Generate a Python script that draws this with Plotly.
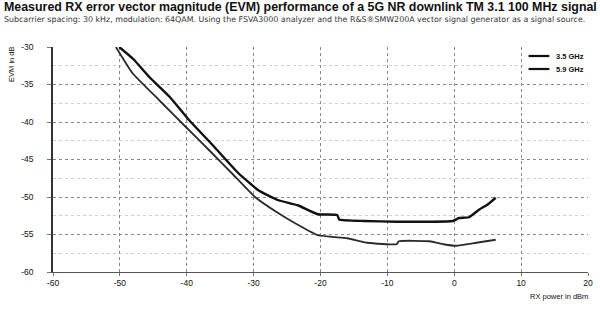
import plotly.graph_objects as go

# RX power (dBm) and EVM (dB)
x_35 = [-50.1, -48.0, -45.6, -42.5, -39.7, -36.0, -32.3, -29.3, -26.4, -23.4, -20.4,
        -17.5, -17.2, -13.5, -8.6, -3.7, -0.2, 0.7, 2.2, 3.7, 5.0, 6.2]
evm_35 = [-30.0, -31.6, -34.0, -36.7, -39.7, -43.2, -46.8, -49.1, -50.4, -51.1, -52.3,
          -52.4, -53.0, -53.2, -53.3, -53.3, -53.2, -52.8, -52.7, -51.7, -51.0, -50.1]

x_59 = [-50.6, -48.1, -44.0, -40.1, -36.5, -33.3, -29.8, -26.4, -23.4, -20.4, -16.0,
        -13.0, -8.6, -8.3, -3.7, -1.6, 0.3, 3.3, 6.2]
evm_59 = [-30.0, -33.5, -37.2, -40.7, -43.9, -46.8, -50.0, -52.1, -53.7, -55.1, -55.5,
          -56.1, -56.3, -55.9, -55.9, -56.3, -56.5, -56.1, -55.7]

series_names = ["3.5 GHz", "5.9 GHz"]
x_ticks = [-60, -50, -40, -30, -20, -10, 0, 10, 20]
y_ticks = [-30, -35, -40, -45, -50, -55, -60]

title = "Measured RX error vector magnitude (EVM) performance of a 5G NR downlink TM 3.1 100 MHz signal"
subtitle = ("Subcarrier spacing: 30 kHz, modulation: 64QAM. Using the FSVA3000 analyzer and the "
            "R&S®SMW200A vector signal generator as a signal source.")

FONT = "Liberation Sans"
W, H = 600, 310
ML, MR, MT, MB = 53, 7, 47, 38
PW, PH = W - ML - MR, H - MT - MB


def px(x):
    return (x - ML) / PW


def py(y):
    # y measured from top of the image in pixels
    return (H - y - MB) / PH


colors = ["#111111", "#2a2a2a"]
widths = [2.4, 1.8]

fig = go.Figure()
fig.add_trace(go.Scatter(x=x_35, y=evm_35, mode="lines", name=series_names[0],
                         line=dict(color=colors[0], width=widths[0], shape="spline", smoothing=0.4)))
fig.add_trace(go.Scatter(x=x_59, y=evm_59, mode="lines", name=series_names[1],
                         line=dict(color=colors[1], width=widths[1], shape="spline", smoothing=0.4)))

annotations = [
    dict(text="<b>" + title + "</b>", x=px(2), y=py(7), xref="paper", yref="paper",
         showarrow=False, xanchor="left", yanchor="middle",
         font=dict(size=12.4, family=FONT, color="#111111")),
    dict(text=subtitle, x=px(2), y=py(20), xref="paper", yref="paper",
         showarrow=False, xanchor="left", yanchor="middle",
         font=dict(size=7.9, family="DejaVu Sans", color="#333333")),
    dict(text="EVM in dB", textangle=-90, x=px(11), y=py(45), xref="paper", yref="paper",
         showarrow=False, xanchor="center", yanchor="top",
         font=dict(size=7.5, family=FONT, color="#111111")),
    dict(text="RX power in dBm", x=px(595), y=py(296), xref="paper", yref="paper",
         showarrow=False, xanchor="right", yanchor="middle",
         font=dict(size=7.5, family=FONT, color="#111111")),
]

shapes = [
    dict(type="rect", xref="paper", yref="paper", x0=px(528), x1=px(598), y0=py(49), y1=py(76),
         fillcolor="white", line=dict(width=0), layer="above"),
]
leg_y = [56, 69]
for i, name in enumerate(series_names):
    shapes.append(dict(type="line", xref="paper", yref="paper",
                       x0=px(533), x1=px(554), y0=py(leg_y[i]), y1=py(leg_y[i]),
                       line=dict(color="#111111", width=2.2), layer="above"))
    annotations.append(dict(text="<b>" + name + "</b>", x=px(559), y=py(leg_y[i]),
                            xref="paper", yref="paper", showarrow=False,
                            xanchor="left", yanchor="middle",
                            font=dict(size=7.5, family=FONT, color="#111111")))

fig.update_layout(
    width=W, height=H,
    margin=dict(l=ML, r=MR, t=MT, b=MB),
    paper_bgcolor="white", plot_bgcolor="white",
    font=dict(family=FONT, color="#111111", size=8),
    showlegend=False,
    xaxis=dict(range=[-60, 20], tickvals=x_ticks,
               ticktext=[str(v) for v in x_ticks],
               showgrid=True, gridcolor="#8a8a8a", griddash="dot", gridwidth=1,
               zeroline=False, showline=True, linecolor="#555555", linewidth=1,
               ticks="outside", ticklen=3, tickcolor="#777777",
               tickfont=dict(size=8.5, family=FONT)),
    yaxis=dict(range=[-60, -30], tickvals=y_ticks,
               ticktext=[str(v) for v in y_ticks],
               showgrid=True, gridcolor="#8a8a8a", griddash="dot", gridwidth=1,
               minor=dict(dtick=2.5, showgrid=True, gridcolor="#cfcfcf", griddash="dot"),
               zeroline=False, showline=True, linecolor="#333333", linewidth=1.5,
               ticks="outside", ticklen=4, tickcolor="#777777",
               ticklabelstandoff=12,
               tickfont=dict(size=8.5, family=FONT)),
    annotations=annotations,
    shapes=shapes,
)

fig.write_html("out.html")
